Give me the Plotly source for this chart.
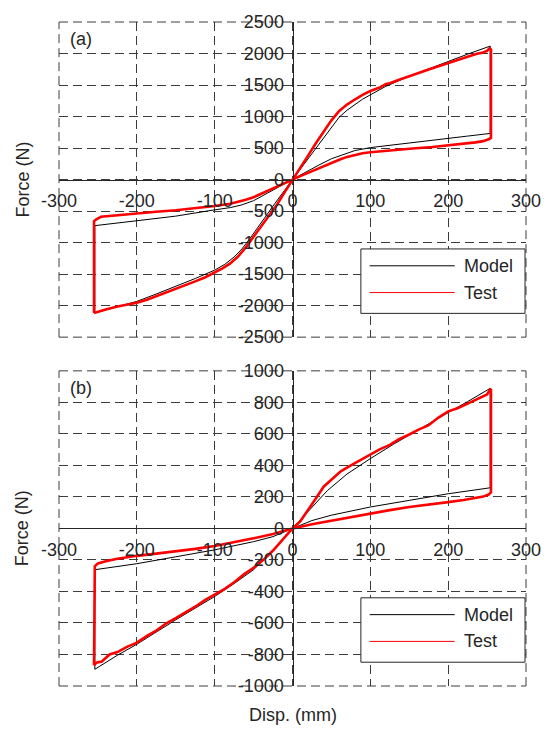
import plotly.graph_objects as go

# ---------------- data ----------------
# Panel (a): Model loop (steep branch up, drop, flat branch back, drop)
a_model_x = [-254, -225, -200, -175, -150, -125, -100, -87, -75, -65, -55, -45, -35, -25, -12, 0,
             12, 25, 37, 50, 60, 70, 80, 90, 100, 120, 150, 175, 200, 225, 254,
             254, 225, 200, 150, 100, 80, 66, 50, 33, 16, 0, -16, -33, -50, -66, -80, -100, -150, -200, -254, -254]
a_model_y = [-2115, -2020, -1933, -1815, -1698, -1570, -1437, -1345, -1228, -1100, -940, -760, -590, -420, -200, 0,
             195, 410, 615, 830, 990, 1100, 1190, 1275, 1344, 1480, 1640, 1760, 1880, 1990, 2118,
             732, 690, 655, 585, 507, 460, 405, 330, 225, 110, 0, -110, -225, -335, -405, -445, -480, -580, -653, -731, -2115]

# Panel (a): Test loop
a_test_x = [-255, -250, -240, -225, -212, -200, -187, -175, -162, -150, -137, -125, -112, -100, -90, -80, -70, -60, -50, -40, -30, -20, -10, 0,
            10, 20, 30, 40, 50, 60, 70, 80, 90, 100, 112, 120, 125, 137, 150, 162, 175, 187, 200, 212, 225, 237, 245, 250, 253, 255,
            255, 252, 245, 235, 220, 200, 180, 158, 140, 120, 100, 90, 80, 70, 60, 50, 40, 30, 20, 10, 0,
            -10, -20, -30, -40, -50, -60, -70, -80, -100, -125, -150, -175, -200, -225, -246, -252, -255, -255]
a_test_y = [-2116, -2095, -2060, -2015, -1985, -1955, -1905, -1850, -1795, -1735, -1680, -1615, -1550, -1480, -1410, -1330, -1220, -1075, -910, -740, -580, -400, -200, 0,
            185, 380, 575, 760, 940, 1090, 1190, 1270, 1345, 1405, 1460, 1515, 1530, 1585, 1645, 1690, 1745, 1795, 1855, 1905, 1950, 1995, 2015, 2040, 2080, 2065,
            660, 640, 610, 590, 568, 540, 518, 497, 480, 458, 434, 418, 395, 360, 315, 265, 215, 165, 110, 55, 0,
            -55, -110, -170, -225, -280, -320, -355, -385, -420, -455, -486, -510, -535, -560, -590, -630, -660, -2116]

# Panel (b): Model loop
b_model_x = [-254, -225, -200, -150, -100, -75, -50, -25, 0, 25, 45, 70, 100, 130, 158, 200, 225, 254,
             254, 200, 150, 100, 50, 25, 0, -25, -50, -100, -150, -200, -254, -254]
b_model_y = [-894, -805, -735, -580, -432, -350, -262, -140, 0, 134, 241, 345, 443, 535, 617, 735, 805, 889,
             258, 220, 178, 136, 84, 50, 0, -52, -84, -136, -180, -224, -262, -894]

# Panel (b): Test loop
b_test_x = [-255, -252, -245, -235, -225, -212, -200, -187, -175, -162, -150, -137, -125, -112, -100, -87, -75, -62, -50, -37, -25, -12, 0,
            10, 20, 30, 40, 50, 62, 75, 87, 100, 112, 125, 137, 150, 162, 175, 187, 200, 212, 225, 237, 245, 250, 253, 255,
            255, 252, 245, 235, 220, 200, 175, 150, 125, 100, 75, 50, 25, 0,
            -25, -50, -75, -100, -125, -150, -175, -200, -225, -240, -250, -254, -255]
b_test_y = [-869, -852, -845, -800, -785, -750, -725, -682, -648, -602, -570, -533, -497, -453, -420, -383, -342, -290, -250, -198, -140, -70, 0,
            45, 115, 190, 265, 312, 362, 400, 433, 468, 502, 530, 566, 596, 627, 655, 702, 743, 763, 792, 818, 838, 850, 875, 885,
            230, 215, 202, 192, 180, 167, 152, 136, 116, 94, 74, 52, 27, 0,
            -36, -63, -88, -111, -130, -147, -160, -174, -192, -209, -222, -241, -869]

# ticks
x_tick_vals = [-300, -200, -100, 0, 100, 200, 300]
x_tick_text = ["-300", "-200", "-100", "0", "100", "200", "300"]
a_tick_vals = [-2500, -2000, -1500, -1000, -500, 0, 500, 1000, 1500, 2000, 2500]
a_tick_text = ["-2500", "-2000", "-1500", "-1000", "-500", "0", "500", "1000", "1500", "2000", "2500"]
b_tick_vals = [-1000, -800, -600, -400, -200, 0, 200, 400, 600, 800, 1000]
b_tick_text = ["-1000", "-800", "-600", "-400", "-200", "0", "200", "400", "600", "800", "1000"]

series_names = ["Model", "Test"]

# ---------------- layout helpers ----------------
FONT = "Liberation Sans, Arial, Helvetica, sans-serif"
TXT = "#262626"
GRID = "#3c3c3c"
DASH = "9px,5px"
W, H = 553, 730
ML, MR, MT, MB = 59, 16, 16, 44
PW = W - ML - MR
PH = H - MT - MB


def px(xp):
    return (xp - ML) / PW


def py(yp):
    return (H - MB - yp) / PH


a_dom = [py(334), py(16)]
b_dom = [py(686), py(368)]

fig = go.Figure()
fig.add_trace(go.Scatter(x=a_model_x, y=a_model_y, mode="lines", name=series_names[0],
                         line=dict(color="black", width=1), xaxis="x", yaxis="y", showlegend=False))
fig.add_trace(go.Scatter(x=a_test_x, y=a_test_y, mode="lines", name=series_names[1],
                         line=dict(color="#ff0000", width=2.6), xaxis="x", yaxis="y", showlegend=False))
fig.add_trace(go.Scatter(x=b_model_x, y=b_model_y, mode="lines", name=series_names[0],
                         line=dict(color="black", width=1), xaxis="x2", yaxis="y2", showlegend=False))
fig.add_trace(go.Scatter(x=b_test_x, y=b_test_y, mode="lines", name=series_names[1],
                         line=dict(color="#ff0000", width=2.6), xaxis="x2", yaxis="y2", showlegend=False))

tickfont = dict(family=FONT, size=18, color=TXT)


def xax(pos):
    return dict(domain=[0, 1], range=[-300, 300], anchor="free", position=pos,
                tickmode="array", tickvals=x_tick_vals, ticktext=x_tick_text,
                showgrid=True, gridcolor=GRID, griddash=DASH, gridwidth=1,
                zeroline=False, showline=True, linecolor=TXT, linewidth=1,
                ticks="", tickfont=tickfont, ticklabelstandoff=5, fixedrange=True)


def yax(dom, rng, vals, text):
    return dict(domain=dom, range=rng, anchor="free", position=0.5,
                tickmode="array", tickvals=vals, ticktext=text,
                showgrid=True, gridcolor=GRID, griddash=DASH, gridwidth=1,
                zeroline=False, showline=True, linecolor=TXT, linewidth=1,
                ticks="", tickfont=tickfont, ticklabelstandoff=5, fixedrange=True)


shapes = []
for xr, yr in (("x domain", "y domain"), ("x2 domain", "y2 domain")):
    for (x0, y0, x1, y1) in ((0, 0, 1, 0), (0, 1, 1, 1), (0, 0, 0, 1), (1, 0, 1, 1)):
        shapes.append(dict(type="line", xref=xr, yref=yr, x0=x0, y0=y0, x1=x1, y1=y1,
                           line=dict(color=GRID, width=1, dash=DASH), layer="below"))

annotations = []
for off, lab in ((0, "(a)"), (352, "(b)")):
    # legend box
    shapes.append(dict(type="rect", xref="paper", yref="paper",
                       x0=px(368), x1=px(536), y0=py(245 + off), y1=py(310 + off),
                       fillcolor="white", line=dict(color=TXT, width=1), layer="above"))
    shapes.append(dict(type="line", xref="paper", yref="paper",
                       x0=px(377), x1=px(464), y0=py(262 + off), y1=py(262 + off),
                       line=dict(color="black", width=1), layer="above"))
    shapes.append(dict(type="line", xref="paper", yref="paper",
                       x0=px(377), x1=px(464), y0=py(289 + off), y1=py(289 + off),
                       line=dict(color="#ff0000", width=1), layer="above"))
    annotations.append(dict(text=series_names[0], xref="paper", yref="paper", x=px(472), y=py(262 + off),
                            xanchor="left", yanchor="middle", showarrow=False,
                            font=dict(family=FONT, size=18, color=TXT)))
    annotations.append(dict(text=series_names[1], xref="paper", yref="paper", x=px(472), y=py(289 + off),
                            xanchor="left", yanchor="middle", showarrow=False,
                            font=dict(family=FONT, size=18, color=TXT)))
    annotations.append(dict(text=lab, xref="paper", yref="paper", x=px(82), y=py(33 + off),
                            xanchor="center", yanchor="middle", showarrow=False,
                            font=dict(family=FONT, size=18, color=TXT)))
    annotations.append(dict(text="Force (N)", xref="paper", yref="paper", x=px(22), y=py(175 + off),
                            xanchor="center", yanchor="middle", textangle=-90, showarrow=False,
                            font=dict(family=FONT, size=18, color=TXT)))

annotations.append(dict(text="Disp. (mm)", xref="paper", yref="paper", x=px(298), y=py(715),
                        xanchor="center", yanchor="middle", showarrow=False,
                        font=dict(family=FONT, size=18, color=TXT)))

fig.update_layout(
    width=W, height=H,
    margin=dict(l=ML, r=MR, t=MT, b=MB, pad=0),
    paper_bgcolor="white", plot_bgcolor="white",
    showlegend=False,
    xaxis=xax((a_dom[0] + a_dom[1]) / 2),
    yaxis=yax(a_dom, [-2500, 2500], a_tick_vals, a_tick_text),
    xaxis2=xax((b_dom[0] + b_dom[1]) / 2),
    yaxis2=yax(b_dom, [-1000, 1000], b_tick_vals, b_tick_text),
    shapes=shapes,
    annotations=annotations,
)

fig.write_html("out.html", config={"displayModeBar": False})
